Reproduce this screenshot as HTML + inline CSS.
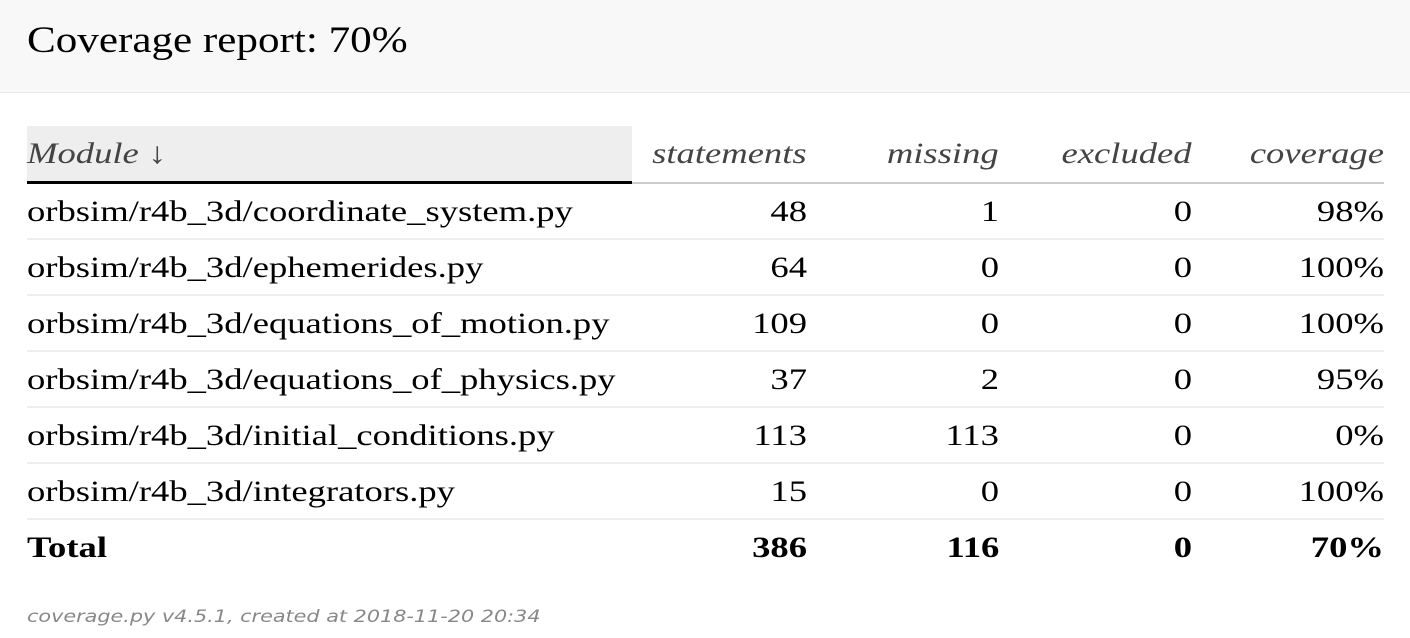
<!DOCTYPE html>
<html><head><meta charset="utf-8"><style>
body{margin:0;width:1410px;height:638px;background:#fff;font-family:"Liberation Serif",serif;color:#000;position:relative;overflow:hidden}
.hdr{position:absolute;left:0;top:0;width:1410px;height:92px;background:#f8f8f8;border-bottom:1px solid #e6e6e6}
.hdr h1{position:absolute;left:27px;top:19px;margin:0;font-weight:normal;font-size:37px;transform:scaleX(1.165);transform-origin:left center;white-space:nowrap}
.c{position:absolute;font-size:30px;white-space:nowrap;line-height:56px;height:56px;transform:scaleX(1.22);transform-origin:left center}
.r{text-align:right;transform-origin:right center}
.th{font-style:italic;color:#444}
.line{position:absolute;left:27px;width:1357px;height:2px;background:#eee;transform:none}
.foot{position:absolute;left:27px;top:607px;font-family:"DejaVu Sans",sans-serif;font-style:italic;font-size:17px;color:#888;transform:scaleX(1.22);transform-origin:left center;white-space:nowrap}
</style></head><body>
<div class="hdr"><h1>Coverage report: 70%</h1></div>
<div style="position:absolute;left:27px;top:126px;width:605px;height:56px;background:#eee"></div>
<div style="position:absolute;left:632px;top:182px;width:752px;height:2px;background:#ccc"></div>
<div style="position:absolute;left:27px;top:181px;width:605px;height:3px;background:#000"></div>
<div id="tbl"></div>
<div class="foot">coverage.py v4.5.1, created at 2018-11-20 20:34</div>
<script>
const modules=["orbsim/r4b_3d/coordinate_system.py","orbsim/r4b_3d/ephemerides.py","orbsim/r4b_3d/equations_of_motion.py","orbsim/r4b_3d/equations_of_physics.py","orbsim/r4b_3d/initial_conditions.py","orbsim/r4b_3d/integrators.py"];
const statements=[48,64,109,37,113,15];
const missing=[1,0,0,2,113,0];
const excluded=[0,0,0,0,0,0];
const coverage=["98%","100%","100%","95%","0%","100%"];
const totals=["Total","386","116","0","70%"];
const headers=["Module ↓","statements","missing","excluded","coverage"];
const rights=[null,807,999,1192,1384];
const tbl=document.getElementById('tbl');
function cell(text,col,top,cls,bold){
  const d=document.createElement('div');
  d.className='c '+cls;
  d.textContent=text;
  d.style.top=top+'px';
  if(col===0){d.style.left='27px';}
  else{d.style.right=(1410-rights[col])+'px';d.classList.add('r');}
  if(bold)d.style.fontWeight='bold';
  tbl.appendChild(d);
  return d;
}
headers.forEach((h,i)=>{
  const d=cell(h,i,126,'th',false);
  
  
});
const rowH=56,top0=184;
modules.forEach((m,i)=>{
  const y=top0+i*rowH;
  const vals=[m,statements[i],missing[i],excluded[i],coverage[i]];
  vals.forEach((v,j)=>{
    const d=cell(String(v),j,y,'',false);
    
    
  });
  const l=document.createElement('div');
  l.className='line';
  l.style.top=(y+rowH-2)+'px';
  
  
  tbl.appendChild(l);
});
const ty=top0+modules.length*rowH;
totals.forEach((v,j)=>{
  const d=cell(v,j,ty,'',true);
  
  
});
</script>
</body></html>
